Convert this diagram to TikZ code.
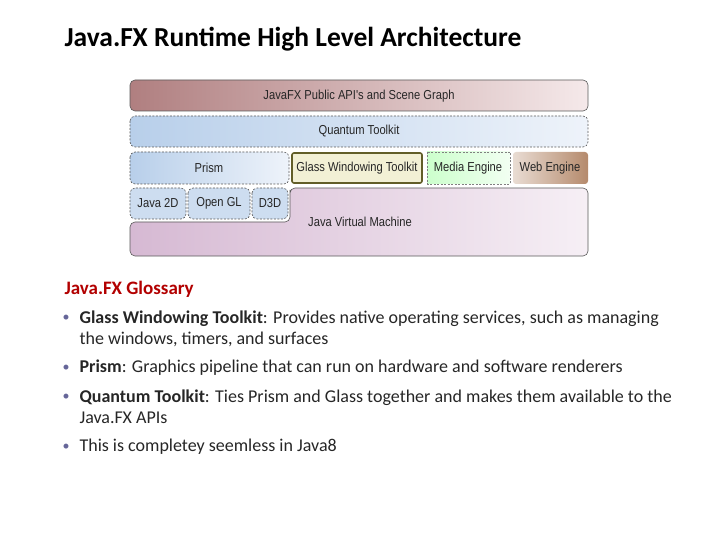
\documentclass[tikz,border=0pt]{standalone}
\usepackage{fontspec}
\setmainfont{Carlito}
\newfontfamily\diag[FakeStretch=0.86]{Liberation Sans}
\begin{document}
\begin{tikzpicture}[x=1pt,y=-1pt,
  lay/.style={rounded corners=5pt,draw=gray!70!black,line width=0.6pt},
  dsh/.style={dash pattern=on 2pt off 1.5pt},
  lbl/.style={font=\diag\fontsize{13}{14}\selectfont,text=black!85},
  txt/.style={anchor=west,font=\fontsize{18}{21}\selectfont,text=black!85,align=left},
  bul/.style={anchor=west,font=\fontsize{14}{16}\selectfont,text=gray!80!blue}]
\useasboundingbox (0,0) rectangle (720,540);
\definecolor{apiL}{HTML}{B07F80}\definecolor{apiR}{HTML}{F5E9EA}
\definecolor{qL}{HTML}{B8CFEA}\definecolor{qR}{HTML}{EEF3FA}
\definecolor{jL}{HTML}{D6B9D3}\definecolor{jR}{HTML}{F6EFF5}
\definecolor{wL}{HTML}{E9DCD3}\definecolor{wR}{HTML}{B58A6C}
\node[anchor=west,font=\bfseries\fontsize{27.5}{30}\selectfont] (title) at (61,39) {Java.FX Runtime High Level Architecture};
% layers
\draw[lay,left color=apiL,right color=apiR] (130,80) rectangle (588,111);
\node[lbl] (api) at (359,96) {JavaFX Public API's and Scene Graph};
\draw[lay,dsh,left color=qL,right color=qR] (130,116) rectangle (588,147);
\node[lbl] (qt) at (359,131) {Quantum Toolkit};
\draw[lay,dsh,left color=qL,right color=qR] (130,152) rectangle (289,184);
\node[lbl] (prism) at (209,168) {Prism};
\draw[draw=olive!60!black,line width=1.6pt,rounded corners=2pt,fill=olive!12] (292,153) rectangle (422,183);
\node[lbl] (glass) at (357,168) {Glass Windowing Toolkit};
\draw[draw=gray,dsh,line width=0.6pt,left color=green!20,right color=green!5] (427,152) rectangle (510,184);
\node[lbl] (media) at (468,168) {Media Engine};
\draw[draw=none,left color=wL,right color=wR,rounded corners=3pt] (513,152) rectangle (588,184);
\node[lbl] (web) at (550,168) {Web Engine};
% JVM
\draw[lay,left color=jL,right color=jR]
  (290,195) -- (290,188) -- (588,188) -- (588,256) -- (130,256) -- (130,222) -- (290,222) -- cycle;
\node[lbl] (jvm) at (360,222) {Java Virtual Machine};
\draw[lay,dsh,fill=qL!70] (130,188) rectangle (186,219);
\node[lbl] (j2d) at (158,203) {Java 2D};
\draw[lay,dsh,fill=qL!70] (188,188) rectangle (250,219);
\node[lbl] (ogl) at (219,203) {Open GL};
\draw[lay,dsh,fill=qL!70] (252,188) rectangle (288,219);
\node[lbl] (d3d) at (270,203) {D3D};
% glossary
\node[anchor=west,font=\bfseries\fontsize{19}{22}\selectfont,text=red!70!black] (gl) at (61,289) {Java.FX Glossary};
\node[bul] (b1) at (59,318) {•};
\node[txt,anchor=north west] (t1) at (76,307) {\textbf{Glass Windowing Toolkit}: Provides native operating services, such as managing\\the windows, timers, and surfaces};
\node[bul] (b2) at (59,368) {•};
\node[txt] (t2) at (76,368) {\textbf{Prism}: Graphics pipeline that can run on hardware and software renderers};
\node[bul] (b3) at (59,397) {•};
\node[txt,anchor=north west] (t3) at (76,386) {\textbf{Quantum Toolkit}: Ties Prism and Glass together and makes them available to the\\Java.FX APIs};
\node[bul] (b4) at (59,447) {•};
\node[txt] (t4) at (76,447) {This is completey seemless in Java8};
\end{tikzpicture}
\end{document}
